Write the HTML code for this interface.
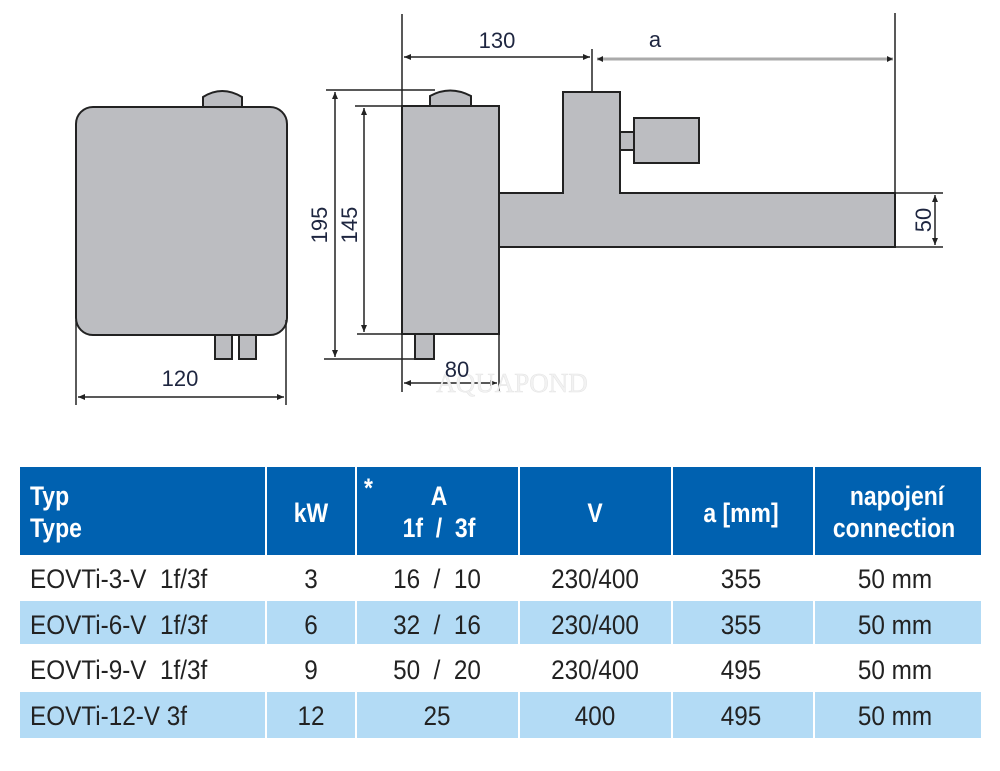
<!DOCTYPE html>
<html><head><meta charset="utf-8"><style>
html,body{margin:0;padding:0;background:#fff;width:1000px;height:771px;overflow:hidden}
svg{position:absolute;left:0;top:0}
.d{font-family:"Liberation Sans",sans-serif;font-size:22px;fill:#1e2640}
.t text{font-family:"Liberation Sans",sans-serif;font-size:27px;white-space:pre}
.h text{fill:#fff;font-weight:bold}
.c text{fill:#222}
</style></head><body>
<svg width="1000" height="771" viewBox="0 0 1000 771">
<g stroke="#222" stroke-width="2" fill="#bcbdc1">
<path d="M203,107 L203,97 Q222,85 242,97 L242,107 Z"/>
<rect x="76" y="107" width="211" height="228" rx="17"/>
<rect x="215" y="335" width="17" height="24"/>
<rect x="239" y="335" width="17" height="24"/>
<path d="M430,106 L430,96 Q450,85 471,96 L471,106 Z"/>
<rect x="415" y="334" width="19" height="25"/>
<path d="M499,193 L563,193 L563,92 L620,92 L620,193 L895,193 L895,247 L499,247 Z"/>
<rect x="402" y="106" width="97" height="228"/>
<rect x="620" y="132" width="14" height="18"/>
<rect x="634" y="118" width="65" height="45"/>
</g>
<g stroke="#222" stroke-width="1.5" fill="none">
<line x1="76" y1="320" x2="76" y2="405"/>
<line x1="286" y1="320" x2="286" y2="405"/>
<line x1="78" y1="397" x2="284" y2="397"/>
<line x1="402" y1="14" x2="402" y2="392"/>
<line x1="499" y1="334" x2="499" y2="392"/>
<line x1="326" y1="90" x2="435" y2="90"/>
<line x1="355" y1="106" x2="402" y2="106"/>
<line x1="357" y1="334" x2="402" y2="334"/>
<line x1="324" y1="359" x2="415" y2="359"/>
<line x1="335" y1="92" x2="335" y2="357"/>
<line x1="364" y1="108" x2="364" y2="332"/>
<line x1="404" y1="383" x2="497" y2="383"/>
<line x1="404" y1="57" x2="590" y2="57"/>
<line x1="592" y1="49" x2="592" y2="92"/>
<line x1="895" y1="13" x2="895" y2="193"/>
<line x1="895" y1="193" x2="943" y2="193"/>
<line x1="895" y1="247" x2="943" y2="247"/>
<line x1="935" y1="195" x2="935" y2="245"/>
</g>
<line x1="597" y1="59" x2="893" y2="59" stroke="#aaa" stroke-width="3"/>
<g fill="#222">
<path d="M78,397 l7,-3 v6z M284,397 l-7,-3 v6z M404,383 l7,-3 v6z M497,383 l-7,-3 v6z M404,57 l7,-3 v6z M590,57 l-7,-3 v6z M597,59 l6,-3 v6z M893,59 l-6,-3 v6z M335,92 l-3,7 h6z M335,357 l-3,-7 h6z M364,108 l-3,7 h6z M364,332 l-3,-7 h6z M935,195 l-3,7 h6z M935,245 l-3,-7 h6z"/>
</g>
<text x="512" y="392" font-family="Liberation Serif,serif" font-size="27" fill="#f2f2f2" stroke="#e4e4e4" stroke-width="0.5" text-anchor="middle">AQUAPOND</text>
<text x="497" y="48" class="d" text-anchor="middle">130</text>
<text x="655" y="47" class="d" text-anchor="middle">a</text>
<text x="180" y="386" class="d" text-anchor="middle">120</text>
<text x="457" y="377" class="d" text-anchor="middle">80</text>
<text transform="translate(327,225) rotate(-90)" class="d" text-anchor="middle">195</text>
<text transform="translate(357,225) rotate(-90)" class="d" text-anchor="middle">145</text>
<text transform="translate(931,220) rotate(-90)" class="d" text-anchor="middle">50</text>
<rect x="20" y="467" width="961" height="89" fill="#0061b0"/>
<rect x="20" y="601" width="961" height="43" fill="#b3dbf5"/>
<rect x="20" y="692" width="961" height="46" fill="#b3dbf5"/>
<g stroke="#fff" stroke-width="2">
<line x1="266" y1="467" x2="266" y2="740"/>
<line x1="356" y1="467" x2="356" y2="740"/>
<line x1="519" y1="467" x2="519" y2="740"/>
<line x1="672" y1="467" x2="672" y2="740"/>
<line x1="814" y1="467" x2="814" y2="740"/>
<line x1="20" y1="556" x2="981" y2="556"/>
</g>
<g class="t">
<g class="h">
<text transform="translate(30,505) scale(.85,1)">Typ</text>
<text transform="translate(30,537) scale(.85,1)">Type</text>
<text transform="translate(311,522) scale(.85,1)" text-anchor="middle">kW</text>
<text transform="translate(364,497) scale(.85,1)">*</text>
<text transform="translate(439,505) scale(.85,1)" text-anchor="middle">A</text>
<text transform="translate(439,537) scale(.85,1)" text-anchor="middle">1f  /  3f</text>
<text transform="translate(595,522) scale(.85,1)" text-anchor="middle">V</text>
<text transform="translate(741,522) scale(.85,1)" text-anchor="middle">a [mm]</text>
<text transform="translate(897,505) scale(.85,1)" text-anchor="middle">napojení</text>
<text transform="translate(894,537) scale(.85,1)" text-anchor="middle">connection</text>
</g>
<g class="c">
<text transform="translate(30,588) scale(.9,1)">EOVTi-3-V  1f/3f</text>
<text transform="translate(311,588) scale(.9,1)" text-anchor="middle">3</text>
<text transform="translate(437,588) scale(.9,1)" text-anchor="middle">16  /  10</text>
<text transform="translate(595,588) scale(.9,1)" text-anchor="middle">230/400</text>
<text transform="translate(741,588) scale(.9,1)" text-anchor="middle">355</text>
<text transform="translate(895,588) scale(.9,1)" text-anchor="middle">50 mm</text>
<text transform="translate(30,634) scale(.9,1)">EOVTi-6-V  1f/3f</text>
<text transform="translate(311,634) scale(.9,1)" text-anchor="middle">6</text>
<text transform="translate(437,634) scale(.9,1)" text-anchor="middle">32  /  16</text>
<text transform="translate(595,634) scale(.9,1)" text-anchor="middle">230/400</text>
<text transform="translate(741,634) scale(.9,1)" text-anchor="middle">355</text>
<text transform="translate(895,634) scale(.9,1)" text-anchor="middle">50 mm</text>
<text transform="translate(30,679) scale(.9,1)">EOVTi-9-V  1f/3f</text>
<text transform="translate(311,679) scale(.9,1)" text-anchor="middle">9</text>
<text transform="translate(437,679) scale(.9,1)" text-anchor="middle">50  /  20</text>
<text transform="translate(595,679) scale(.9,1)" text-anchor="middle">230/400</text>
<text transform="translate(741,679) scale(.9,1)" text-anchor="middle">495</text>
<text transform="translate(895,679) scale(.9,1)" text-anchor="middle">50 mm</text>
<text transform="translate(30,725) scale(.9,1)">EOVTi-12-V 3f</text>
<text transform="translate(311,725) scale(.9,1)" text-anchor="middle">12</text>
<text transform="translate(437,725) scale(.9,1)" text-anchor="middle">25</text>
<text transform="translate(595,725) scale(.9,1)" text-anchor="middle">400</text>
<text transform="translate(741,725) scale(.9,1)" text-anchor="middle">495</text>
<text transform="translate(895,725) scale(.9,1)" text-anchor="middle">50 mm</text>
</g>
</g>
</svg>
</body></html>
